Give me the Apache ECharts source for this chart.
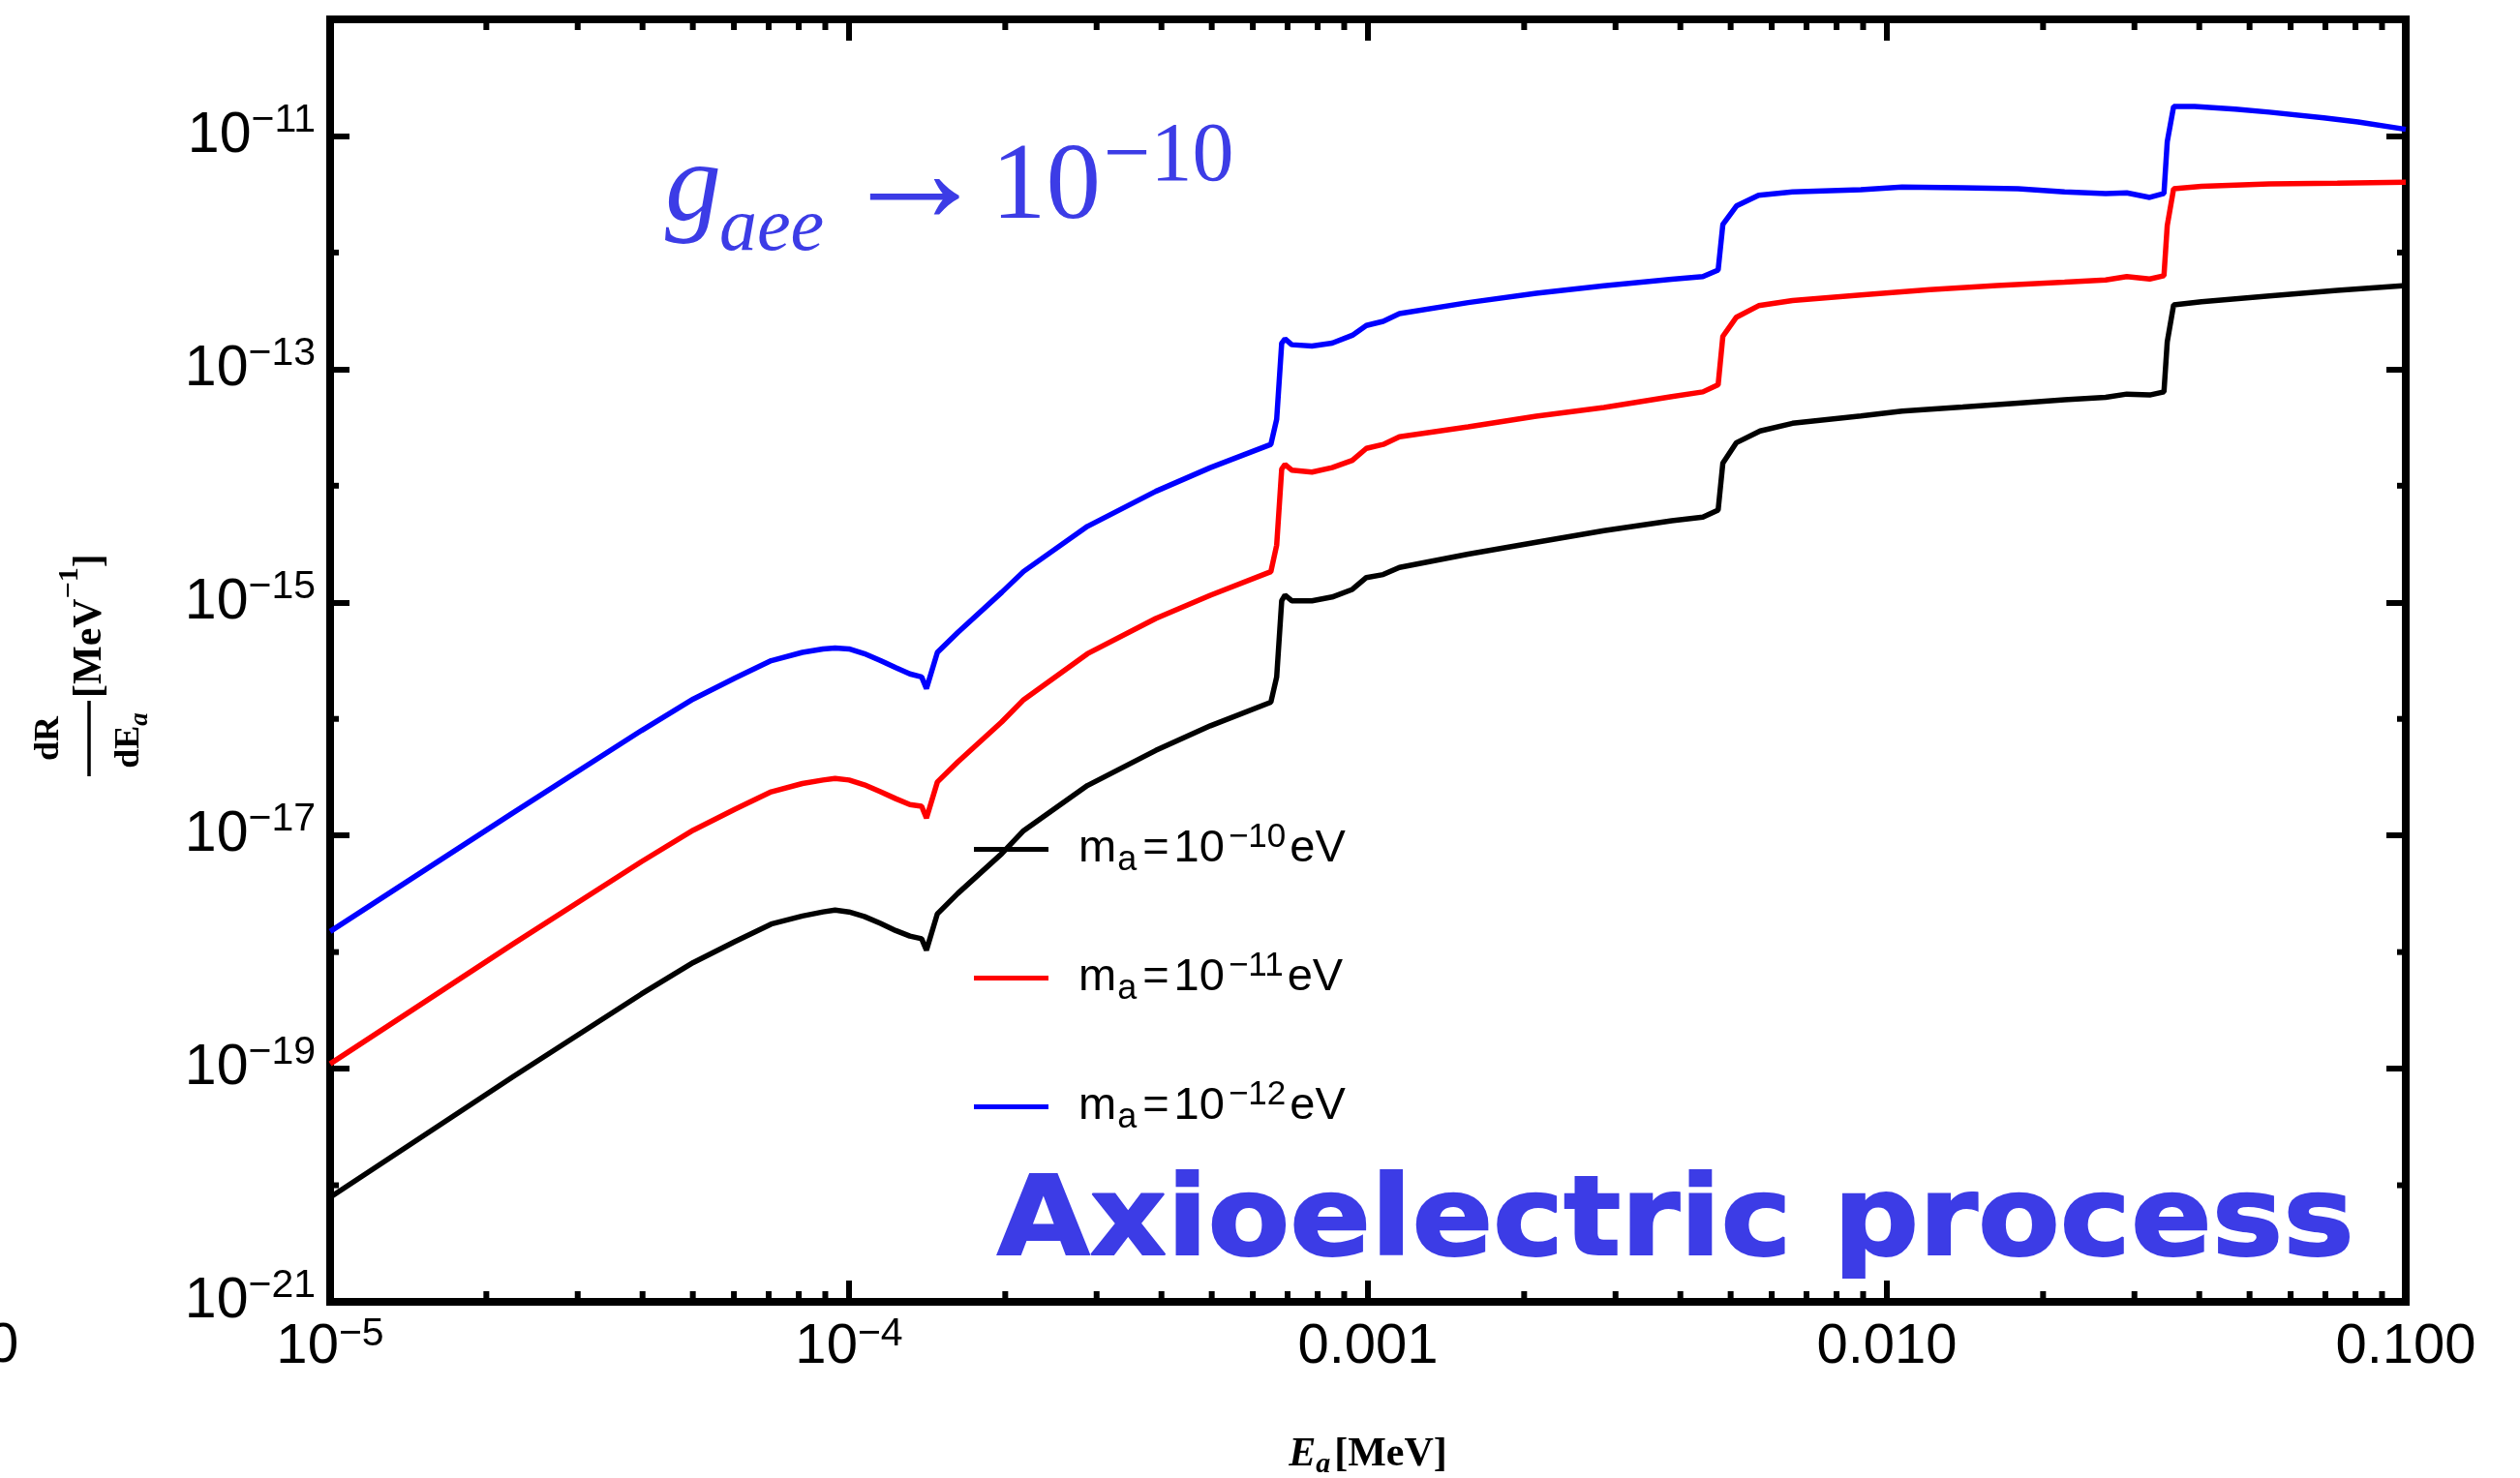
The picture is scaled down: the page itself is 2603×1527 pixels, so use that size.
<!DOCTYPE html>
<html>
<head>
<meta charset="utf-8">
<script src="https://cdn.jsdelivr.net/npm/echarts@6/dist/echarts.min.js"></script>
<style>html,body{margin:0;padding:0;background:#fff}#chart{width:2603px;height:1527px}</style>
</head>
<body>
<div id="chart"></div>
<script>
// ---------------- data ----------------
const seriesNames = ['m_a=1e-10 eV', 'm_a=1e-11 eV', 'm_a=1e-12 eV'];
const legendExponents = ['−10', '−11', '−12'];
const seriesColors = ['#000000', '#ff0000', '#0000ff'];

const blackData = [
  [1.00e-5,7.87e-21],[2.25e-5,8.51e-20],[3.98e-5,4.37e-19],[5.01e-5,8.13e-19],[6.03e-5,1.23e-18],
  [7.08e-5,1.74e-18],[8.13e-5,2.04e-18],[8.91e-5,2.21e-18],[9.40e-5,2.29e-18],[1.00e-4,2.21e-18],
  [1.07e-4,2.02e-18],[1.15e-4,1.76e-18],[1.23e-4,1.53e-18],[1.31e-4,1.37e-18],[1.38e-4,1.30e-18],
  [1.41e-4,1.04e-18],[1.48e-4,2.13e-18],[1.62e-4,3.18e-18],[1.97e-4,7.00e-18],[2.17e-4,1.10e-17],
  [2.88e-4,2.68e-17],[3.90e-4,5.36e-17],[4.97e-4,8.73e-17],[6.50e-4,1.39e-16],[6.67e-4,2.29e-16],
  [6.82e-4,1.03e-15],[6.92e-4,1.15e-15],[7.13e-4,1.03e-15],[7.80e-4,1.03e-15],[8.53e-4,1.11e-15],
  [9.33e-4,1.29e-15],[9.93e-4,1.63e-15],[1.07e-3,1.73e-15],[1.15e-3,1.99e-15],[1.56e-3,2.59e-15],
  [2.11e-3,3.27e-15],[2.85e-3,4.12e-15],[3.85e-3,5.01e-15],[4.42e-3,5.38e-15],[4.73e-3,6.18e-15],
  [4.83e-3,1.56e-14],[5.13e-3,2.34e-14],[5.70e-3,2.95e-14],[6.58e-3,3.43e-14],[8.91e-3,3.96e-14],
  [1.07e-2,4.36e-14],[1.40e-2,4.73e-14],[1.79e-2,5.11e-14],[2.20e-2,5.45e-14],[2.64e-2,5.73e-14],
  [2.90e-2,6.11e-14],[3.21e-2,6.00e-14],[3.42e-2,6.38e-14],[3.47e-2,1.71e-13],[3.57e-2,3.56e-13],
  [4.04e-2,3.79e-13],[5.46e-2,4.24e-13],[7.38e-2,4.74e-13],[1.00e-1,5.22e-13]
];

const redData = [
  [1.00e-5,1.10e-19],[2.25e-5,1.17e-18],[3.98e-5,5.96e-18],[5.01e-5,1.11e-17],[6.03e-5,1.68e-17],
  [7.08e-5,2.37e-17],[8.13e-5,2.79e-17],[8.91e-5,2.99e-17],[9.40e-5,3.09e-17],[1.00e-4,2.99e-17],
  [1.07e-4,2.72e-17],[1.15e-4,2.37e-17],[1.23e-4,2.07e-17],[1.31e-4,1.84e-17],[1.38e-4,1.78e-17],
  [1.41e-4,1.41e-17],[1.48e-4,2.88e-17],[1.62e-4,4.27e-17],[1.97e-4,9.44e-17],[2.17e-4,1.46e-16],
  [2.88e-4,3.62e-16],[3.90e-4,7.26e-16],[4.97e-4,1.15e-15],[6.50e-4,1.83e-15],[6.67e-4,3.09e-15],
  [6.82e-4,1.39e-14],[6.92e-4,1.52e-14],[7.13e-4,1.36e-14],[7.80e-4,1.31e-14],[8.53e-4,1.43e-14],
  [9.33e-4,1.65e-14],[9.93e-4,2.09e-14],[1.07e-3,2.26e-14],[1.15e-3,2.63e-14],[1.56e-3,3.20e-14],
  [2.11e-3,3.94e-14],[2.85e-3,4.69e-14],[3.85e-3,5.82e-14],[4.42e-3,6.38e-14],[4.73e-3,7.33e-14],
  [4.83e-3,1.91e-13],[5.13e-3,2.79e-13],[5.66e-3,3.50e-13],[6.58e-3,3.87e-13],[8.91e-3,4.32e-13],
  [1.21e-2,4.81e-13],[1.63e-2,5.22e-13],[2.20e-2,5.56e-13],[2.64e-2,5.82e-13],[2.90e-2,6.21e-13],
  [3.21e-2,5.93e-13],[3.42e-2,6.32e-13],[3.47e-2,1.70e-12],[3.57e-2,3.53e-12],[4.04e-2,3.69e-12],
  [5.46e-2,3.88e-12],[7.38e-2,3.94e-12],[1.00e-1,4.01e-12]
];

const blueData = [
  [1.00e-5,1.50e-18],[2.25e-5,1.56e-17],[3.98e-5,7.94e-17],[5.01e-5,1.48e-16],[6.03e-5,2.24e-16],
  [7.08e-5,3.16e-16],[8.13e-5,3.72e-16],[8.91e-5,3.98e-16],[9.40e-5,4.06e-16],[1.00e-4,3.98e-16],
  [1.07e-4,3.63e-16],[1.15e-4,3.16e-16],[1.23e-4,2.75e-16],[1.31e-4,2.43e-16],[1.38e-4,2.29e-16],
  [1.41e-4,1.82e-16],[1.48e-4,3.72e-16],[1.62e-4,5.50e-16],[1.97e-4,1.22e-15],[2.17e-4,1.84e-15],
  [2.88e-4,4.48e-15],[3.90e-4,8.95e-15],[4.97e-4,1.43e-14],[6.50e-4,2.26e-14],[6.67e-4,3.72e-14],
  [6.82e-4,1.67e-13],[6.92e-4,1.82e-13],[7.13e-4,1.62e-13],[7.80e-4,1.58e-13],[8.53e-4,1.67e-13],
  [9.33e-4,1.95e-13],[9.93e-4,2.37e-13],[1.07e-3,2.57e-13],[1.15e-3,2.99e-13],[1.56e-3,3.72e-13],
  [2.11e-3,4.47e-13],[2.85e-3,5.19e-13],[3.85e-3,5.89e-13],[4.42e-3,6.21e-13],[4.73e-3,7.08e-13],
  [4.83e-3,1.74e-12],[5.13e-3,2.51e-12],[5.66e-3,3.10e-12],[6.58e-3,3.31e-12],[8.91e-3,3.46e-12],
  [1.07e-2,3.65e-12],[1.40e-2,3.60e-12],[1.79e-2,3.53e-12],[2.20e-2,3.31e-12],[2.64e-2,3.21e-12],
  [2.90e-2,3.25e-12],[3.21e-2,2.97e-12],[3.42e-2,3.21e-12],[3.47e-2,8.89e-12],[3.57e-2,1.79e-11],
  [3.92e-2,1.79e-11],[4.69e-2,1.70e-11],[5.46e-2,1.60e-11],[6.95e-2,1.43e-11],[8.09e-2,1.32e-11],
  [1.00e-1,1.14e-11]
];

// axis ticks & labels
const xMin = 1e-5, xMax = 0.1, yMin = 1e-21, yMax = 1e-10;
const xTickExponents = [-5, -4, -3, -2, -1];
const xTickLabels = ['{xb|10}{xs|−5}', '{xb|10}{xs|−4}', '{xb|0.001}', '{xb|0.010}', '{xb|0.100}'];
const yTickExponents = [-21, -19, -17, -15, -13, -11];
const yTickLabels = ['{yb|10}{ys|−21}', '{yb|10}{ys|−19}', '{yb|10}{ys|−17}', '{yb|10}{ys|−15}', '{yb|10}{ys|−13}', '{yb|10}{ys|−11}'];
const xMinorTicks = [
  2e-5,3e-5,4e-5,5e-5,6e-5,7e-5,8e-5,9e-5,
  2e-4,3e-4,4e-4,5e-4,6e-4,7e-4,8e-4,9e-4,
  2e-3,3e-3,4e-3,5e-3,6e-3,7e-3,8e-3,9e-3,
  2e-2,3e-2,4e-2,5e-2,6e-2,7e-2,8e-2,9e-2
];
const yMinorTicks = [1e-20, 1e-18, 1e-16, 1e-14, 1e-12];

// ---------------- style ----------------
const SANS = "'Liberation Sans', Arial, sans-serif";
const SERIF = "'Liberation Serif', 'Times New Roman', serif";
const ANNOT = '#3c3ce6';
const Y_LABEL_MARGIN = 15;
const yRich = {
  yb: {fontFamily: SANS, fontSize: 59, lineHeight: 73, color: '#000', fill: '#000'},
  ys: {fontFamily: SANS, fontSize: 41, lineHeight: 41, verticalAlign: 'top', color: '#000', fill: '#000'}
};

const chart = echarts.init(document.getElementById('chart'), null, {renderer: 'canvas'});

function xLabel(v) {
  const e = Math.round(Math.log10(v));
  const i = xTickExponents.indexOf(e);
  return i >= 0 ? xTickLabels[i] : '';
}
// the lowest y label (at the corner) is drawn by its own series below
function yLabel(v) {
  if (!(v > 0)) return '';
  const e = Math.round(Math.log10(v));
  const i = yTickExponents.indexOf(e);
  return i > 0 ? yTickLabels[i] : '';
}

function minorX(params, api) {
  const v = api.value(0);
  const b = api.coord([v, yMin]);
  const t = api.coord([v, yMax]);
  const st = {stroke: '#000', lineWidth: 6};
  return {type: 'group', children: [
    {type: 'line', shape: {x1: b[0], y1: b[1], x2: b[0], y2: b[1] - 11}, style: st},
    {type: 'line', shape: {x1: t[0], y1: t[1], x2: t[0], y2: t[1] + 11}, style: st}
  ]};
}
function minorY(params, api) {
  const v = api.value(1);
  const l = api.coord([xMin, v]);
  const r = api.coord([xMax, v]);
  const st = {stroke: '#000', lineWidth: 6};
  return {type: 'group', children: [
    {type: 'line', shape: {x1: l[0], y1: l[1], x2: l[0] + 9, y2: l[1]}, style: st},
    {type: 'line', shape: {x1: r[0], y1: r[1], x2: r[0] - 9, y2: r[1]}, style: st}
  ]};
}
function cornerLabel(params, api) {
  const p = api.coord([api.value(0), api.value(1)]);
  return {type: 'text', x: p[0] - Y_LABEL_MARGIN, y: p[1],
    style: {text: yTickLabels[0], textAlign: 'right', textVerticalAlign: 'middle', fill: '#000', rich: yRich}};
}

const axisLineStyle = {color: '#000', width: 8, cap: 'square'};
const tickStyle = {color: '#000', width: 6};

const option = {
  backgroundColor: '#ffffff',
  animation: false,
  grid: {left: 341, right: 118, top: 20, bottom: 182, containLabel: false, outerBoundsMode: 'none'},
  legend: {
    data: seriesNames,
    orient: 'vertical',
    left: 1006,
    top: 848,
    padding: 0,
    itemWidth: 77,
    itemHeight: 5,
    itemGap: 74,
    icon: 'rect',
    selectedMode: false,
    formatter: function (name) {
      const i = seriesNames.indexOf(name);
      return '{gap| }{n|m}{a|a}{eq|=}{n|10}{s|' + legendExponents[i] + '}{n|eV}';
    },
    textStyle: {
      color: '#000',
      rich: {
        gap: {width: 26, fontSize: 10},
        n: {fontFamily: SANS, fontSize: 47, lineHeight: 59, color: '#000'},
        a: {fontFamily: SANS, fontSize: 36, lineHeight: 36, verticalAlign: 'bottom', color: '#000', padding: [0, 6, 0, 1]},
        eq: {fontFamily: SANS, fontSize: 47, lineHeight: 59, color: '#000', padding: [0, 5, 0, 0]},
        s: {fontFamily: SANS, fontSize: 35, lineHeight: 35, verticalAlign: 'top', color: '#000', padding: [0, 4, 0, 4]}
      }
    }
  },
  xAxis: [{
    type: 'log', logBase: 10, min: xMin, max: xMax, interval: 1,
    position: 'bottom',
    axisLine: {show: true, onZero: false, lineStyle: axisLineStyle},
    axisTick: {show: true, inside: true, length: 22, lineStyle: tickStyle},
    minorTick: {show: false},
    splitLine: {show: false},
    axisLabel: {
      show: true, margin: 13, formatter: xLabel, showMinLabel: true, showMaxLabel: true, hideOverlap: false,
      rich: {
        xb: {fontFamily: SANS, fontSize: 58, lineHeight: 67, color: '#000'},
        xs: {fontFamily: SANS, fontSize: 41, lineHeight: 41, verticalAlign: 'top', color: '#000'}
      }
    },
    name: '{e|E}{a|a}{m|[MeV]}',
    nameLocation: 'middle',
    nameGap: 133,
    nameTextStyle: {
      rich: {
        e: {fontFamily: SERIF, fontSize: 42, fontWeight: 'bold', fontStyle: 'italic', lineHeight: 50, color: '#000'},
        a: {fontFamily: SERIF, fontSize: 30, fontWeight: 'bold', fontStyle: 'italic', lineHeight: 30, verticalAlign: 'bottom', color: '#000', padding: [0, 4, 0, 0]},
        m: {fontFamily: SERIF, fontSize: 42, fontWeight: 'bold', lineHeight: 50, color: '#000'}
      }
    }
  }, {
    type: 'log', logBase: 10, min: xMin, max: xMax, interval: 1,
    position: 'top',
    axisLine: {show: true, onZero: false, lineStyle: axisLineStyle},
    axisTick: {show: true, inside: true, length: 22, lineStyle: tickStyle},
    minorTick: {show: false},
    splitLine: {show: false},
    axisLabel: {show: false}
  }],
  yAxis: [{
    type: 'log', logBase: 10, min: yMin, max: yMax, interval: 2,
    position: 'left',
    axisLine: {show: true, onZero: false, lineStyle: axisLineStyle},
    axisTick: {show: true, inside: true, length: 20, lineStyle: tickStyle},
    minorTick: {show: false},
    splitLine: {show: false},
    axisLabel: {
      show: true, margin: Y_LABEL_MARGIN, formatter: yLabel, showMinLabel: true, showMaxLabel: true, hideOverlap: false,
      rich: yRich
    }
  }, {
    type: 'log', logBase: 10, min: yMin, max: yMax, interval: 2,
    position: 'right',
    axisLine: {show: true, onZero: false, lineStyle: axisLineStyle},
    axisTick: {show: true, inside: true, length: 20, lineStyle: tickStyle},
    minorTick: {show: false},
    splitLine: {show: false},
    axisLabel: {show: false}
  }],
  series: [
    {
      name: seriesNames[2], type: 'line', data: blueData, showSymbol: false, symbol: 'none',
      lineStyle: {color: seriesColors[2], width: 5.5}, itemStyle: {color: seriesColors[2]}, z: 3
    },
    {
      name: seriesNames[1], type: 'line', data: redData, showSymbol: false, symbol: 'none',
      lineStyle: {color: seriesColors[1], width: 5.5}, itemStyle: {color: seriesColors[1]}, z: 3
    },
    {
      name: seriesNames[0], type: 'line', data: blackData, showSymbol: false, symbol: 'none',
      lineStyle: {color: seriesColors[0], width: 5.5}, itemStyle: {color: seriesColors[0]}, z: 3
    },
    {
      type: 'custom', renderItem: minorX, silent: true, z: 4,
      data: xMinorTicks.map(v => [v, yMin])
    },
    {
      type: 'custom', renderItem: minorY, silent: true, z: 4,
      data: yMinorTicks.map(v => [xMin, v])
    },
    {
      type: 'custom', renderItem: cornerLabel, silent: true, clip: false, z: 4,
      data: [[xMin, yMin]]
    }
  ],
  graphic: [
    // g_aee -> 10^-10
    {type: 'text', x: 687, y: 196, silent: true,
     style: {text: 'g', font: 'italic 116px ' + SERIF, fill: ANNOT, textAlign: 'left', textVerticalAlign: 'middle'}},
    {type: 'text', x: 743, y: 237, silent: true,
     style: {text: 'aee', font: 'italic 78px ' + SERIF, fill: ANNOT, textAlign: 'left', textVerticalAlign: 'middle'}},
    {type: 'text', x: 867, y: 188, silent: true,
     style: {text: '→', font: '155px ' + SERIF, fill: ANNOT, textAlign: 'left', textVerticalAlign: 'middle'}},
    {type: 'text', x: 1024, y: 195, silent: true,
     style: {text: '10', font: '113px ' + SERIF, fill: ANNOT, textAlign: 'left', textVerticalAlign: 'middle'}},
    {type: 'text', x: 1140, y: 163, silent: true,
     style: {text: '−10', font: '86px ' + SERIF, fill: ANNOT, textAlign: 'left', textVerticalAlign: 'middle'}},
    // Axioelectric process
    {type: 'text', x: 1030, y: 1266, scaleX: 1.083, silent: true,
     style: {text: 'Axioelectric process', font: 'bold 114px "DejaVu Sans", sans-serif', fill: ANNOT,
             stroke: ANNOT, lineWidth: 2, textAlign: 'left', textVerticalAlign: 'middle'}},
    // y axis title (rotated fraction)
    {type: 'group', x: 92, y: 682, rotation: Math.PI / 2, silent: true, children: [
      {type: 'text', x: -81, y: -41,
       style: {text: 'dR', font: 'bold 36px ' + SERIF, fill: '#000', textAlign: 'center', textVerticalAlign: 'middle'}},
      {type: 'line', shape: {x1: -120, y1: 0, x2: -42, y2: 0}, style: {stroke: '#000', lineWidth: 3.5}},
      {type: 'text', x: -83, y: 42,
       style: {text: '{n|dE}{s|a}', fill: '#000', textAlign: 'center', textVerticalAlign: 'middle',
               rich: {n: {font: 'bold 36px ' + SERIF, lineHeight: 50, fill: '#000'},
                      s: {font: 'bold italic 27px ' + SERIF, lineHeight: 27, verticalAlign: 'bottom', fill: '#000'}}}},
      {type: 'text', x: -39, y: 1,
       style: {text: '{m|[MeV}{s|−1}{m|]}', fill: '#000', textAlign: 'left', textVerticalAlign: 'middle',
               rich: {m: {font: 'bold 42px ' + SERIF, lineHeight: 72, fill: '#000'},
                      s: {font: 'bold 30px ' + SERIF, lineHeight: 30, verticalAlign: 'top', fill: '#000'}}}}
    ]},
    // clipped label fragment at the left edge
    {type: 'text', x: -13, y: 1391, silent: true,
     style: {text: '0', font: '58px ' + SANS, fill: '#000', textAlign: 'left', textVerticalAlign: 'middle'}}
  ]
};

chart.setOption(option);
</script>
</body>
</html>
